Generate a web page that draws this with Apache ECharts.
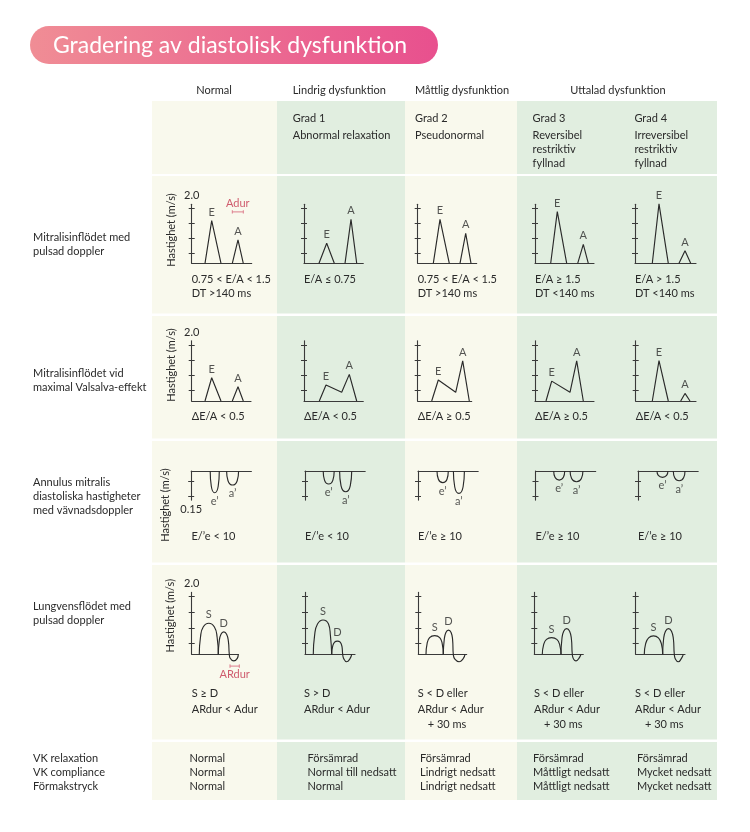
<!DOCTYPE html>
<html>
<head>
<meta charset="utf-8">
<script src="https://cdn.jsdelivr.net/npm/echarts@6/dist/echarts.min.js"></script>
<style>
  html, body { margin: 0; padding: 0; background: #fff; }
  #chart { width: 750px; height: 832px; }
</style>
</head>
<body>
<div id="chart"></div>
<script>
// ---- texts ----
const title = 'Gradering av diastolisk dysfunktion';
const columns = ['Normal', 'Grad 1', 'Grad 2', 'Grad 3', 'Grad 4'];
const groupHeaders = ['Normal', 'Lindrig dysfunktion', 'Måttlig dysfunktion', 'Uttalad dysfunktion'];
const gradeLines = [
  [],
  ['Grad 1', 'Abnormal relaxation'],
  ['Grad 2', 'Pseudonormal'],
  ['Grad 3', 'Reversibel', 'restriktiv', 'fyllnad'],
  ['Grad 4', 'Irreversibel', 'restriktiv', 'fyllnad'],
];
const rowLabels = [
  ['Mitralisinflödet med', 'pulsad doppler'],
  ['Mitralisinflödet vid', 'maximal Valsalva-effekt'],
  ['Annulus mitralis', 'diastoliska hastigheter', 'med vävnadsdoppler'],
  ['Lungvensflödet med', 'pulsad doppler'],
];
const axisTitle = 'Hastighet (m/s)';
const velocityTop = '2.0';
const tdiBottom = '0.15';

// tick values on the small velocity axes (m/s)
const velocityTicks = [0.37, 0.91, 1.45, 2.0];
const tdiTicks = [-0.057, -0.15];

// ---- row 1: mitral inflow, [start, peak, end] times and peak velocities ----
const mitralTimeE = [[13.3, 20, 29.3], [15, 22.7, 30.3], [15.6, 22.3, 31.6], [15.7, 22.3, 31.7], [17.3, 24, 33.3]];
const mitralPeakE = [1.55, 0.73, 1.6, 1.88, 2.16];
const mitralTimeA = [[40.6, 46.3, 51.6], [41, 47, 52.7], [42.3, 48, 53.3], [42.7, 48.3, 53.3], [44, 50, 55.7]];
const mitralPeakA = [0.85, 1.6, 1.09, 0.69, 0.46];
const mitralNotes = [
  ['0.75 < E/A < 1.5', 'DT >140 ms'],
  ['E/A ≤ 0.75'],
  ['0.75 < E/A < 1.5', 'DT >140 ms'],
  ['E/A ≥ 1.5', 'DT <140 ms'],
  ['E/A > 1.5', 'DT <140 ms'],
];

// ---- row 2: Valsalva ----
const valsalvaCurves = [
  [[[13.3, 0], [20, 0.83], [29.3, 0]], [[40.6, 0], [46.3, 0.51], [51.6, 0]]],
  [[[15.3, 0], [22, 0.57], [37.7, 0.31], [45.3, 0.95], [52.7, 0]]],
  [[[14, 0], [20.6, 0.75], [38, 0.31], [45, 1.43], [51.6, 0]]],
  [[[11, 0], [16.7, 0.71], [35, 0.31], [41.7, 1.43], [48.3, 0]]],
  [[[16.6, 0], [23.3, 1.44], [32.6, 0]], [[45, 0], [49.3, 0.27], [54.3, 0]]],
];
const valsalvaPeaks = [
  [[20, 0.83], [46.3, 0.51]],
  [[22, 0.57], [45.3, 0.95]],
  [[20.6, 0.75], [45, 1.43]],
  [[16.7, 0.71], [41.7, 1.43]],
  [[23.3, 1.44], [49.3, 0.27]],
];
const valsalvaNotes = [['ΔE/A < 0.5'], ['ΔE/A < 0.5'], ['ΔE/A ≥ 0.5'], ['ΔE/A ≥ 0.5'], ['ΔE/A < 0.5']];

// ---- row 3: tissue doppler (negative = away) ----
const tdiE = [
  [[19, 0], [20.1, -0.089], [23.5, -0.127], [27, -0.089], [28.1, 0]],
  [[18.2, 0], [19.5, -0.053], [23.7, -0.076], [27.9, -0.053], [29.2, 0]],
  [[19, 0], [20.4, -0.048], [24.7, -0.068], [29, -0.048], [30.3, 0]],
  [[18.2, 0], [19.5, -0.037], [23.7, -0.053], [27.9, -0.037], [29.2, 0]],
  [[19, 0], [20.3, -0.026], [24.5, -0.037], [28.6, -0.026], [29.9, 0]],
];
const tdiA = [
  [[35.4, 0], [36.8, -0.057], [41.4, -0.082], [46, -0.057], [47.4, 0]],
  [[34.6, 0], [36, -0.085], [40.7, -0.121], [45.3, -0.085], [46.7, 0]],
  [[35.4, 0], [36.7, -0.092], [40.9, -0.131], [45.1, -0.092], [46.4, 0]],
  [[34.6, 0], [36.1, -0.044], [41, -0.063], [45.9, -0.044], [47.4, 0]],
  [[35.3, 0], [36.7, -0.04], [41.2, -0.057], [45.6, -0.04], [47, 0]],
];
const tdiNotes = [['E/’e < 10'], ['E/’e < 10'], ['E/’e ≥ 10'], ['E/’e ≥ 10'], ['E/’e ≥ 10']];

// ---- row 4: pulmonary vein flow ----
const pvS = [
  [[7.6, 0], [8.8, 0.6], [11.5, 0.95], [17.1, 1.08], [22.7, 0.95], [25.4, 0.6], [26.6, 0]],
  [[8.3, 0], [9.6, 0.66], [12.5, 1.05], [18, 1.19], [23.5, 1.05], [25.4, 0.66], [26.7, 0]],
  [[7.7, 0], [8.8, 0.37], [11.3, 0.58], [16.4, 0.65], [21.4, 0.58], [23.9, 0.37], [25, 0]],
  [[8, 0], [9.3, 0.33], [12.2, 0.52], [17.3, 0.58], [22.5, 0.52], [25.4, 0.33], [26.7, 0]],
  [[8.6, 0], [9.9, 0.36], [12.9, 0.57], [17.8, 0.64], [22.7, 0.57], [25.7, 0.36], [27, 0]],
];
const pvDAr = [
  [[26.6, 0], [27.5, 0.45], [29.3, 0.7], [32.1, 0.78], [34.9, 0.7], [36.7, 0.45], [37.6, 0], [38.5, -0.14], [42.1, -0.23], [45.6, -0.14], [46.6, 0]],
  [[26.7, 0], [27.7, 0.28], [29.6, 0.42], [32.4, 0.46], [35.2, 0.42], [36.9, 0.28], [37.7, 0], [38.7, -0.15], [41.7, -0.26], [45, -0.15], [46.7, 0]],
  [[25, 0], [25.9, 0.5], [27.6, 0.76], [30.2, 0.84], [32.8, 0.76], [34.3, 0.5], [35, 0], [36.6, -0.17], [40.8, -0.26], [44.9, -0.15], [46.7, 0]],
  [[26.7, 0], [27.6, 0.53], [29.4, 0.8], [32.4, 0.89], [35.3, 0.8], [37.1, 0.53], [38, 0], [39.2, -0.16], [41.7, -0.23], [44.6, -0.14], [46.7, 0]],
  [[27, 0], [27.9, 0.53], [29.8, 0.8], [32.8, 0.89], [35.8, 0.8], [37.7, 0.53], [38.6, 0], [39.8, -0.17], [42.6, -0.26], [45.6, -0.15], [47.6, 0]],
];
const pvNotes = [
  ['S ≥ D', 'ARdur < Adur'],
  ['S > D', 'ARdur < Adur'],
  ['S < D eller', 'ARdur < Adur', '+ 30 ms'],
  ['S < D eller', 'ARdur < Adur', '+ 30 ms'],
  ['S < D eller', 'ARdur < Adur', '+ 30 ms'],
];

// duration brackets in the normal column
const adurSpan = [40.6, 51.6];
const adurLevel = 1.87;
const ardurSpan = [38.3, 47.6];
const ardurLevel = -0.41;

// ---- bottom summary ----
const summaryLabels = ['VK relaxation', 'VK compliance', 'Förmakstryck'];
const relaxation = ['Normal', 'Försämrad', 'Försämrad', 'Försämrad', 'Försämrad'];
const compliance = ['Normal', 'Normal till nedsatt', 'Lindrigt nedsatt', 'Måttligt nedsatt', 'Mycket nedsatt'];
const atrialPressure = ['Normal', 'Normal', 'Lindrigt nedsatt', 'Måttligt nedsatt', 'Mycket nedsatt'];

// ---- layout / style ----
const FONT = 'Lato, "Open Sans", sans-serif';
const INK = '#2a2a2a';
const AXIS = '#3a3a3a';
const RED = '#c4354e';
const BEIGE = '#f9f9ed';
const GREEN = '#e1eee0';

const panelLayout = [
  { axisX: [191.7, 304, 417.7, 535, 635], len: [60, 59.3, 59, 59, 61], top: 204.2, h: 59.1, min: 0, max: 2.15,
    noteX: [191.7, 304, 417.7, 535, 635], noteY: [279.3, 293.3], titleAt: [171.7, 230] },
  { axisX: [191.7, 304, 417.7, 535, 635.7], len: [59.3, 59.3, 54, 59, 60.3], top: 340.8, h: 60.2, min: 0, max: 2.15,
    noteX: [191.7, 304, 417.7, 535, 635.7], noteY: [416.7], titleAt: [171.7, 365] },
  { axisX: [191.2, 305, 418, 535.5, 638], len: [60.2, 60.2, 60.2, 60.2, 60.2], top: 471, h: 29.1, min: -0.17, max: 0,
    noteX: [191.5, 305, 418, 535.5, 638], noteY: [536.7], titleAt: [165.7, 505] },
  { axisX: [191.7, 305, 418.3, 534.3, 635.7], len: [46.7, 50, 48.4, 49, 49.3], top: 592.4, h: 61.9, min: 0, max: 2.15,
    noteX: [191.7, 304, 417.7, 534, 635], noteY: [693.3, 709, 724.3], titleAt: [170.7, 615.7] },
];
const colBands = [[152, 277, BEIGE], [277, 405, GREEN], [405, 517, BEIGE], [517, 717, GREEN]];
const rowBands = [[101, 174], [176, 313.5], [316, 438.5], [441, 562.5], [565, 739.5], [742, 800]];
const summaryX = [189.5, 307.5, 420, 533, 637];

const chart = echarts.init(document.getElementById('chart'));

const grids = [];
const xAxes = [];
const yAxes = [];
const series = [];
const graphics = [];

function txt(x, y, s, extra) {
  return {
    type: 'text', x, y, silent: true, z: 10,
    style: Object.assign({ text: s, fill: INK, fontSize: 11, fontFamily: FONT, align: 'left', verticalAlign: 'middle' }, extra || {}),
  };
}

function addPanel(row, col) {
  const L = panelLayout[row];
  const gi = grids.length;
  const ticks = row === 2 ? tdiTicks : velocityTicks;
  grids.push({ left: L.axisX[col], top: L.top, width: L.len[col], height: L.h, show: false });
  xAxes.push({
    type: 'value', gridIndex: gi, min: 0, max: L.len[col],
    position: row === 2 ? 'top' : 'bottom',
    axisLine: { show: true, onZero: false, lineStyle: { color: AXIS, width: 1.1 } },
    axisTick: { show: false }, axisLabel: { show: false }, splitLine: { show: false },
  });
  const base = {
    type: 'value', gridIndex: gi, min: L.min, max: L.max, position: 'left',
    axisLabel: { show: false }, splitLine: { show: false },
  };
  // axis line
  const lineAxis = Object.assign({}, base, {
    axisLine: { show: true, onZero: false, lineStyle: { color: AXIS, width: 1.1 } },
    axisTick: { show: false },
  });
  if (col === 0) {
    const nameStyle = { color: INK, fontSize: 11, fontFamily: FONT };
    if (row === 2) Object.assign(lineAxis, { name: tdiBottom, nameLocation: 'start', nameGap: 4, nameTextStyle: nameStyle });
    else Object.assign(lineAxis, { name: velocityTop, nameLocation: 'end', nameGap: 3, nameTextStyle: nameStyle });
  }
  yAxes.push(lineAxis);
  // tick crosses: same scale, shifted 3px right so the outward ticks straddle the line
  yAxes.push(Object.assign({}, base, {
    offset: -3,
    axisLine: { show: false, onZero: false },
    axisTick: { show: true, inside: false, length: 6, customValues: ticks, lineStyle: { color: AXIS, width: 1 } },
  }));
  return gi;
}

function wave(gi, pts, smooth) {
  series.push({
    type: 'line', xAxisIndex: gi, yAxisIndex: 2 * gi, data: pts, symbol: 'none',
    smooth: smooth || false, clip: false, silent: true, z: 5,
    lineStyle: { color: INK, width: 1.15 },
  });
}

function marks(gi, pts, names, position, color) {
  series.push({
    type: 'scatter', xAxisIndex: gi, yAxisIndex: 2 * gi, symbolSize: 0, clip: false, silent: true, z: 6,
    data: pts.map((p, i) => ({ value: p, name: names[i] })),
    label: { show: true, position, distance: 3, formatter: '{b}', color: color || INK, fontSize: 11, fontFamily: FONT },
  });
}

function bracket(gi, span, level, half, text, position) {
  const segs = [
    [[span[0], level], [span[1], level]],
    [[span[0], level - half], [span[0], level + half]],
    [[span[1], level - half], [span[1], level + half]],
  ];
  segs.forEach((s) => series.push({
    type: 'line', xAxisIndex: gi, yAxisIndex: 2 * gi, data: s, symbol: 'none',
    clip: false, silent: true, z: 5, lineStyle: { color: '#dd7d8d', width: 1 },
  }));
  marks(gi, [[(span[0] + span[1]) / 2, level]], [text], position, RED);
}

function notes(row, col, lines) {
  const L = panelLayout[row];
  lines.forEach((s, i) => {
    const indent = s.charAt(0) === '+' ? 10 : 0;
    graphics.push(txt(L.noteX[col] + indent, L.noteY[i], s));
  });
}

// backgrounds
rowBands.forEach(([y0, y1]) => {
  colBands.forEach(([x0, x1, fill]) => {
    graphics.push({ type: 'rect', silent: true, z: -10, shape: { x: x0, y: y0, width: x1 - x0, height: y1 - y0 }, style: { fill } });
  });
});

// title pill
graphics.push({
  type: 'rect', silent: true, z: 1, shape: { x: 30, y: 26, width: 408, height: 38, r: 19 },
  style: { fill: { type: 'linear', x: 0, y: 0, x2: 1, y2: 0, colorStops: [{ offset: 0, color: '#f08d95' }, { offset: 1, color: '#e8508e' }] } },
});
graphics.push(txt(53, 45.5, title, { fill: '#ffffff', fontSize: 23 }));

// headers
graphics.push(txt(214, 90, groupHeaders[0], { align: 'center' }));
graphics.push(txt(292.7, 90, groupHeaders[1]));
graphics.push(txt(415, 90, groupHeaders[2]));
graphics.push(txt(618, 90, groupHeaders[3], { align: 'center' }));
const gradeX = [0, 292.7, 415, 532.6, 634.4];
const gradeY = [118, 135, 149, 163];
gradeLines.forEach((lines, c) => lines.forEach((s, i) => graphics.push(txt(gradeX[c], gradeY[i], s))));

// row labels
const rowLabelY = [[237, 251], [373, 387], [482, 496, 510], [606, 620]];
rowLabels.forEach((lines, r) => lines.forEach((s, i) => graphics.push(txt(33, rowLabelY[r][i], s))));

// axis titles
panelLayout.forEach((L) => {
  const t = txt(L.titleAt[0], L.titleAt[1], axisTitle, { align: 'center', verticalAlign: 'middle' });
  t.rotation = Math.PI / 2;
  graphics.push(t);
});

// row 1: mitral inflow
columns.forEach((_, c) => {
  const gi = addPanel(0, c);
  const tE = mitralTimeE[c];
  const tA = mitralTimeA[c];
  wave(gi, [[tE[0], 0], [tE[1], mitralPeakE[c]], [tE[2], 0]]);
  wave(gi, [[tA[0], 0], [tA[1], mitralPeakA[c]], [tA[2], 0]]);
  marks(gi, [[tE[1], mitralPeakE[c]], [tA[1], mitralPeakA[c]]], ['E', 'A'], 'top');
  if (c === 0) bracket(gi, adurSpan, adurLevel, 0.06, 'Adur', 'top');
  notes(0, c, mitralNotes[c]);
});

// row 2: Valsalva
columns.forEach((_, c) => {
  const gi = addPanel(1, c);
  valsalvaCurves[c].forEach((pts) => wave(gi, pts));
  marks(gi, valsalvaPeaks[c], ['E', 'A'], 'top');
  notes(1, c, valsalvaNotes[c]);
});

// row 3: tissue doppler
columns.forEach((_, c) => {
  const gi = addPanel(2, c);
  wave(gi, tdiE[c], 0.5);
  wave(gi, tdiA[c], 0.5);
  marks(gi, [tdiE[c][2], tdiA[c][2]], ['e’', 'a’'], 'bottom');
  notes(2, c, tdiNotes[c]);
});

// row 4: pulmonary veins
columns.forEach((_, c) => {
  const gi = addPanel(3, c);
  wave(gi, pvS[c], 0.5);
  wave(gi, pvDAr[c], 0.5);
  marks(gi, [pvS[c][3], pvDAr[c][3]], ['S', 'D'], 'top');
  if (c === 0) bracket(gi, ardurSpan, ardurLevel, 0.06, 'ARdur', 'bottom');
  notes(3, c, pvNotes[c]);
});

// summary rows
const summaryY = [758, 772, 786];
summaryLabels.forEach((s, i) => graphics.push(txt(33, summaryY[i], s)));
[relaxation, compliance, atrialPressure].forEach((vals, i) => {
  vals.forEach((s, c) => graphics.push(txt(summaryX[c], summaryY[i], s)));
});

chart.setOption({
  animation: false,
  backgroundColor: '#ffffff',
  textStyle: { fontFamily: FONT },
  graphic: { elements: graphics },
  grid: grids,
  xAxis: xAxes,
  yAxis: yAxes,
  series,
});
</script>
</body>
</html>
